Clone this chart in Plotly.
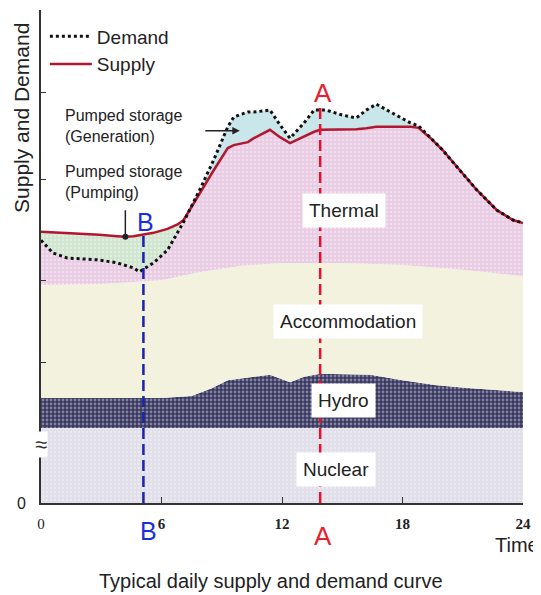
import plotly.graph_objects as go

# hours of the day shared by the demand and supply curves
hours = [0, 0.6, 1.3, 2.9, 3.8, 4.2, 4.6, 4.9, 5.6, 6.3, 6.8, 7.1, 7.9, 8.6, 9.3, 9.6,
         10.3, 10.6, 11.4, 11.9, 12.4, 13.1, 13.6, 13.9, 14.2, 15.0, 15.7, 16.2, 16.7,
         17.4, 18.4, 18.8, 19.4, 20.0, 20.7, 21.7, 22.7, 23.5, 24]
demand = [53.3, 50.7, 49.7, 49.3, 48.7, 48.2, 47.7, 46.9, 48.7, 51.3, 54.8, 57.0, 63.5,
          69.6, 76.3, 78.3, 79.3, 79.3, 79.7, 76.7, 74.0, 77.1, 79.7, 79.7, 79.7, 78.7,
          78.1, 79.7, 80.9, 79.3, 77.1, 76.5, 74.0, 71.6, 68.2, 63.5, 59.4, 57.4, 56.8]
supply = [55.0, 54.9, 54.8, 54.4, 54.1, 54.0, 54.1, 54.3, 54.8, 55.6, 56.5, 57.4, 62.9,
          67.5, 72.0, 72.6, 73.2, 74.0, 75.7, 74.2, 73.0, 74.4, 75.3, 75.7, 75.7, 75.7,
          75.8, 76.0, 76.3, 76.3, 76.3, 76.1, 74.0, 71.6, 68.2, 63.5, 59.4, 57.4, 56.8]

# upper edge of the accommodation band (= bottom of thermal)
acc_hours = [0, 3, 6, 8, 10, 12, 15, 18, 21, 24]
acc_top = [44.2, 44.4, 45.2, 46.9, 48.1, 48.7, 48.7, 48.3, 47.3, 46.0]

# upper edge of hydro
hydro_hours = [0, 3, 6, 7.5, 8.5, 9.3, 10.5, 11.4, 12.4, 13.1, 13.9, 16.4, 18.0, 19.7, 21.4, 24]
hydro_top = [21.3, 21.3, 21.3, 21.7, 23.3, 24.9, 25.6, 26.0, 24.5, 25.6, 26.2, 26.0, 24.9,
             23.9, 23.3, 22.5]

# nuclear is flat
nuclear_hours = [0, 24]
nuclear_top = [15.2, 15.2]

time_a = 13.9
time_b = 5.1
x_ticks = [0, 6, 12, 18, 24]
y_ticks = [0, 28.4, 45.2, 65.7, 83.2]

cross = hours.index(7.1)
merge = hours.index(19.4)

fig = go.Figure()

fig.add_trace(go.Scatter(x=nuclear_hours, y=nuclear_top, mode="lines", line=dict(width=0),
                         fill="tozeroy", fillcolor="#e0dfea",
                         fillpattern=dict(shape=".", fgcolor="#f4f3f8", size=4, solidity=0.3),
                         showlegend=False, hoverinfo="skip"))
fig.add_trace(go.Scatter(x=hydro_hours, y=hydro_top, mode="lines", line=dict(width=0),
                         fill="tonexty", fillcolor="#37365f",
                         fillpattern=dict(shape=".", fgcolor="#d0d0e0", bgcolor="#37365f",
                                          size=4, solidity=0.4),
                         showlegend=False, hoverinfo="skip"))
fig.add_trace(go.Scatter(x=acc_hours, y=acc_top, mode="lines", line=dict(width=0),
                         fill="tonexty", fillcolor="#f3f2df",
                         showlegend=False, hoverinfo="skip"))
fig.add_trace(go.Scatter(x=hours, y=supply, mode="lines", line=dict(width=0),
                         fill="tonexty", fillcolor="#e8cce3",
                         fillpattern=dict(shape=".", fgcolor="#fbf4fa", bgcolor="#e8cce3",
                                          size=4, solidity=0.3),
                         showlegend=False, hoverinfo="skip"))

# pumping at night: demand below supply
fig.add_trace(go.Scatter(x=hours[:cross + 1] + hours[:cross + 1][::-1],
                         y=demand[:cross + 1] + supply[:cross + 1][::-1],
                         mode="lines", line=dict(width=0), fill="toself", fillcolor="#cfe5cf",
                         fillpattern=dict(shape=".", fgcolor="#f1f8ee", bgcolor="#cfe5cf",
                                          size=4, solidity=0.3),
                         showlegend=False, hoverinfo="skip"))
# generation in the day: demand above supply
fig.add_trace(go.Scatter(x=hours[cross:merge + 1] + hours[cross:merge + 1][::-1],
                         y=demand[cross:merge + 1] + supply[cross:merge + 1][::-1],
                         mode="lines", line=dict(width=0), fill="toself", fillcolor="#c9e6ea",
                         showlegend=False, hoverinfo="skip"))

fig.add_trace(go.Scatter(x=hours, y=supply, mode="lines", name="Supply",
                         line=dict(color="#b3172f", width=2.5), legendrank=2))
fig.add_trace(go.Scatter(x=hours, y=demand, mode="lines", name="Demand",
                         line=dict(color="#111111", width=3, dash="3px,3px"), legendrank=1))

# A / B lines
fig.add_shape(type="line", x0=time_a, x1=time_a, y0=0, y1=80.1,
              line=dict(color="#e8102a", width=2.5, dash="11px,5px"))
fig.add_shape(type="line", x0=time_b, x1=time_b, y0=0, y1=54.8,
              line=dict(color="#1a22b0", width=2.5, dash="11px,5px"))

sans = "Liberation Sans, Arial, sans-serif"
labels = [("Thermal", 15.1, 59.4), ("Accommodation", 15.3, 36.9),
          ("Hydro", 15.05, 20.7), ("Nuclear", 14.7, 6.7)]
for text, lx, ly in labels:
    fig.add_annotation(x=lx, y=ly, text=text, showarrow=False,
                       font=dict(family=sans, size=19, color="#222222"),
                       bgcolor="white", borderpad=6)

fig.add_annotation(x=1.1, y=76.5, text="Pumped storage<br>(Generation)", showarrow=False,
                   xanchor="left", align="left", font=dict(family=sans, size=16, color="#222222"))
fig.add_annotation(x=1.1, y=65.2, text="Pumped storage<br>(Pumping)", showarrow=False,
                   xanchor="left", align="left", font=dict(family=sans, size=16, color="#222222"))
fig.add_annotation(x=9.9, y=75.5, ax=-36, ay=0, text="", showarrow=True,
                   arrowhead=2, arrowsize=1, arrowwidth=1.5, arrowcolor="#222222")
fig.add_annotation(x=4.2, y=54.0, ax=0, ay=-28, text="", showarrow=True,
                   arrowhead=6, arrowsize=1, arrowwidth=1.5, arrowcolor="#222222")

fig.add_annotation(x=14.05, y=83.2, text="A", showarrow=False,
                   font=dict(family=sans, size=26, color="#e8202e"))
fig.add_annotation(x=14.05, yref="paper", y=-0.067, yanchor="middle", text="A",
                   showarrow=False, font=dict(family=sans, size=26, color="#e8202e"))
fig.add_annotation(x=5.2, y=57.0, text="B", showarrow=False,
                   font=dict(family=sans, size=25, color="#1a2ee0"))
fig.add_annotation(x=5.35, yref="paper", y=-0.057, yanchor="middle", text="B",
                   showarrow=False, font=dict(family=sans, size=25, color="#1a2ee0"))

fig.add_annotation(x=0, y=11.8, text="≈", showarrow=False,
                   font=dict(family=sans, size=22, color="#333333"), bgcolor="white",
                   borderpad=0)

fig.add_annotation(xref="paper", x=0, xshift=-19, xanchor="center", y=78.1,
                   yanchor="middle", text="Supply and Demand", textangle=-90,
                   showarrow=False, font=dict(family=sans, size=21, color="#222222"))
fig.add_annotation(xref="paper", x=1.037, yref="paper", y=-0.085, text="Time",
                   xanchor="right", yanchor="middle", showarrow=False,
                   font=dict(family=sans, size=20, color="#222222"))
fig.add_annotation(xref="paper", x=0.478, yref="paper", y=-0.159, xanchor="center",
                   yanchor="middle", text="Typical daily supply and demand curve",
                   showarrow=False, font=dict(family=sans, size=20, color="#222222"))

fig.update_xaxes(range=[0, 24], showgrid=False, zeroline=False, showline=True,
                 linecolor="#333333", linewidth=2, ticks="inside", ticklen=6,
                 tickcolor="#333333", tickvals=x_ticks,
                 ticktext=["0"] + ["<b>%d</b>" % t for t in x_ticks[1:]],
                 tickfont=dict(family="Liberation Serif, Times New Roman, serif", size=15,
                               color="#222222"),
                 ticklabelstandoff=6)
fig.update_yaxes(range=[0, 100], showgrid=False, zeroline=False, showline=True,
                 linecolor="#333333", linewidth=2, ticks="inside", ticklen=5,
                 tickcolor="#333333", tickvals=y_ticks, ticktext=["0", "", "", "", ""],
                 tickfont=dict(family=sans, size=16, color="#222222"),
                 ticklabelstandoff=10)

# the page adds an 8px body margin, so the plot sits 8px up/left inside the figure
fig.update_layout(
    width=541, height=595,
    margin=dict(l=33, r=26, t=2, b=100),
    plot_bgcolor="white", paper_bgcolor="white",
    legend=dict(x=0.008, y=0.985, xanchor="left", yanchor="top", bgcolor="rgba(0,0,0,0)",
                traceorder="normal", itemwidth=42,
                font=dict(family=sans, size=19, color="#222222"), tracegroupgap=0),
)

fig.write_html("out.html")
